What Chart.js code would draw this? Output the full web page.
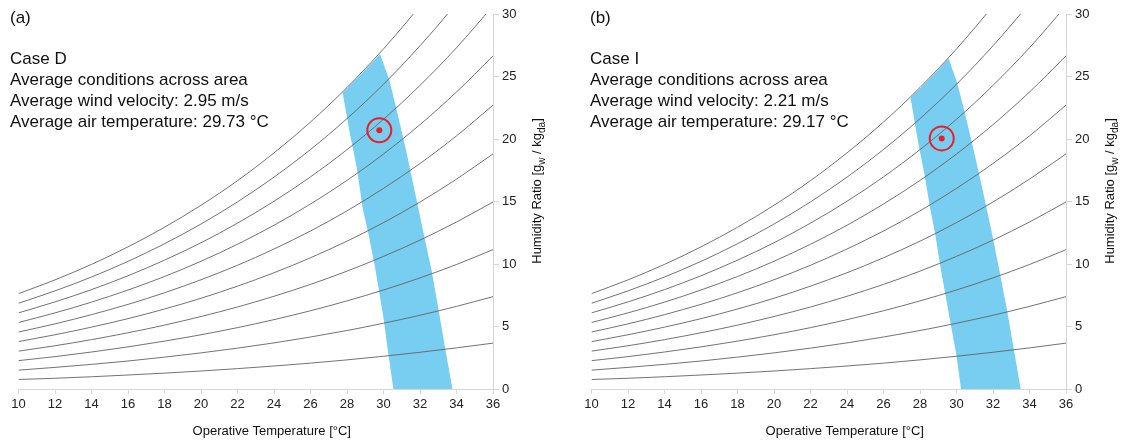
<!DOCTYPE html>
<html><head><meta charset="utf-8">
<script src="https://cdn.jsdelivr.net/npm/chart.js@4.4.1/dist/chart.umd.min.js"></script>
<style>
html,body{margin:0;padding:0;background:#fff;width:1127px;height:441px;overflow:hidden}
canvas{position:absolute;top:0}
#cA{left:0}
#cB{left:573px}
</style></head><body>
<canvas id="cA" width="560" height="441"></canvas>
<canvas id="cB" width="554" height="441"></canvas>
<script>
// ---- Data ----
const temps = [10,12,14,16,18,20,22,24,26,28,30,32,34,36];
// Relative-humidity curves: humidity ratio [g/kg] at each temperature
const rh10  = [0.76,0.86,0.98,1.12,1.27,1.44,1.63,1.84,2.07,2.33,2.62,2.94,3.29,3.67];
const rh20  = [1.51,1.73,1.97,2.24,2.55,2.89,3.27,3.69,4.16,4.68,5.26,5.90,6.61,7.39];
const rh30  = [2.27,2.59,2.96,3.37,3.83,4.34,4.91,5.55,6.26,7.05,7.92,8.89,9.96,11.15];
const rh40  = [3.03,3.46,3.95,4.50,5.11,5.80,6.56,7.42,8.37,9.43,10.61,11.91,13.36,14.96];
const rh50  = [3.79,4.34,4.95,5.63,6.40,7.26,8.23,9.30,10.50,11.83,13.31,14.96,16.79,18.81];
const rh60  = [4.56,5.21,5.95,6.77,7.70,8.74,9.90,11.20,12.64,14.25,16.05,18.04,20.25,22.71];
const rh70  = [5.32,6.09,6.95,7.92,9.00,10.22,11.58,13.10,14.80,16.69,18.80,21.15,23.76,26.65];
const rh80  = [6.09,6.97,7.95,9.06,10.31,11.70,13.27,15.02,16.97,19.15,21.58,24.29,27.30,30.65];
const rh90  = [6.86,7.85,8.96,10.21,11.62,13.20,14.97,16.95,19.16,21.63,24.38,27.46,30.88,34.69];
const rh100 = [7.63,8.73,9.97,11.37,12.94,14.70,16.67,18.89,21.36,24.12,27.21,30.66,34.50,38.79];

// Comfort zone outline, Case D (temperature, humidity ratio)
const zoneD_T = [27.76,28.3,28.8,29.3,29.81,30.32,30.73,31.24,31.70,32.16,32.63,33.02,33.39,33.78,30.54,30.26,29.99,29.53,29.17,28.86,28.53,28.16,27.76];
const zoneD_W = [23.70,24.5,25.25,26.0,26.81,24.73,22.28,19.09,15.90,12.71,9.52,6.33,3.14,0,0,2.87,5.79,9.78,12.45,14.44,17.76,20.43,23.70];
// Comfort zone outline, Case I
const zoneI_T = [27.48,28.0,28.5,29.0,29.56,30.03,30.43,30.95,31.44,31.91,32.35,32.77,33.15,33.52,30.25,29.98,29.61,29.12,28.83,28.56,28.24,27.88,27.48];
const zoneI_W = [23.32,24.05,24.8,25.55,26.47,24.52,22.26,19.07,15.88,12.69,9.50,6.30,3.11,0,0,2.85,5.77,9.76,12.42,14.42,17.21,19.87,23.32];

// Average condition points
const pointD = [29.77, 20.7];
const pointI = [29.19, 20.05];

const textD = ["(a)", "Case D", "Average conditions across area", "Average wind velocity: 2.95 m/s", "Average air temperature: 29.73 °C"];
const textI = ["(b)", "Case I", "Average conditions across area", "Average wind velocity: 2.21 m/s", "Average air temperature: 29.17 °C"];

const xTicks = {min:10, max:36, step:2};
const yTicks = {min:0, max:30, step:5};
const xTitle = "Operative Temperature [°C]";
const yTitleParts = [["Humidity Ratio [g",0],["w",1],[" / kg",0],["da",1],["]",0]];

// ---- Rendering ----
const FONT = "'Liberation Sans', Arial, Helvetica, sans-serif";
const pts = (xs, ys) => xs.map((x,i) => ({x:x, y:ys[i]}));

const textPlugin = {
  id: 'txt',
  afterDraw(chart, args, opts) {
    const ctx = chart.ctx, a = chart.chartArea;
    ctx.save();
    ctx.fillStyle = '#111';
    ctx.textAlign = 'left';
    ctx.textBaseline = 'alphabetic';
    ctx.font = '17px ' + FONT;
    opts.lines.forEach((s,i) => ctx.fillText(s, opts.x, opts.ys[i]));
    // x title
    ctx.font = '13px ' + FONT;
    ctx.textAlign = 'center';
    ctx.fillText(xTitle, (a.left + a.right)/2 + 16, 435);
    // y title (rotated, with subscripts)
    ctx.textAlign = 'left';
    const mainF = '13px ' + FONT, subF = '10px ' + FONT;
    let total = 0;
    yTitleParts.forEach(p => { ctx.font = p[1] ? subF : mainF; total += ctx.measureText(p[0]).width; });
    ctx.translate(a.right + 48, 191);
    ctx.rotate(-Math.PI/2);
    let u = -total/2;
    yTitleParts.forEach(p => {
      ctx.font = p[1] ? subF : mainF;
      ctx.fillText(p[0], u, p[1] ? 3.5 : 0);
      u += ctx.measureText(p[0]).width;
    });
    ctx.restore();
  }
};

function build(id, zT, zW, mark, lines, textX, yW) {
  const curves = [rh10,rh20,rh30,rh40,rh50,rh60,rh70,rh80,rh90,rh100].map(arr => ({
    type:'line', data: pts(temps, arr), borderColor:'rgba(100,100,100,0.9)', borderWidth:1,
    pointRadius:0, cubicInterpolationMode:'monotone', fill:false, order:2
  }));
  const zone = {type:'line', data: pts(zT, zW), borderWidth:0, borderColor:'rgba(0,0,0,0)',
    backgroundColor:'#77cef0', fill:'shape', pointRadius:0, tension:0, order:3};
  const ring = {type:'scatter', data:[{x:mark[0], y:mark[1]}], pointRadius:12, pointBorderWidth:2,
    pointBorderColor:'#ee1c25', pointBackgroundColor:'rgba(0,0,0,0)', borderColor:'#ee1c25', backgroundColor:'rgba(0,0,0,0)', order:0};
  const dot = {type:'scatter', data:[{x:mark[0], y:mark[1]}], pointRadius:3, pointBorderWidth:0,
    pointBackgroundColor:'#ee1c25', backgroundColor:'#ee1c25', order:0};
  const axisCol = '#d6d6d6';
  return new Chart(document.getElementById(id), {
    type:'line',
    data:{datasets:[ring, dot, ...curves, zone]},
    options:{
      responsive:false, animation:false, devicePixelRatio:1,
      layout:{padding:{left:18.5, top:13, right:0, bottom:0}},
      plugins:{legend:{display:false}, tooltip:{enabled:false},
        txt:{lines:lines, x:textX, ys:[23,64,85,106,127]}},
      scales:{
        x:{type:'linear', position:'bottom', min:xTicks.min, max:xTicks.max,
          ticks:{stepSize:xTicks.step, color:'#222', font:{family:FONT, size:13}, padding:3, maxRotation:0, autoSkip:false},
          grid:{drawOnChartArea:false, drawTicks:true, tickLength:5, color:axisCol},
          border:{display:true, color:axisCol, width:1},
          afterFit: s => { s.height = 52; }},
        y:{type:'linear', position:'right', min:yTicks.min, max:yTicks.max,
          ticks:{stepSize:yTicks.step, color:'#222', font:{family:FONT, size:13}, padding:3},
          grid:{drawOnChartArea:false, drawTicks:true, tickLength:6, color:axisCol},
          border:{display:true, color:axisCol, width:1},
          afterFit: s => { s.width = yW; }}
      }
    },
    plugins:[textPlugin]
  });
}

build('cA', zoneD_T, zoneD_W, pointD, textD, 10, 67);
build('cB', zoneI_T, zoneI_W, pointI, textI, 17, 61);
</script>
</body></html>
